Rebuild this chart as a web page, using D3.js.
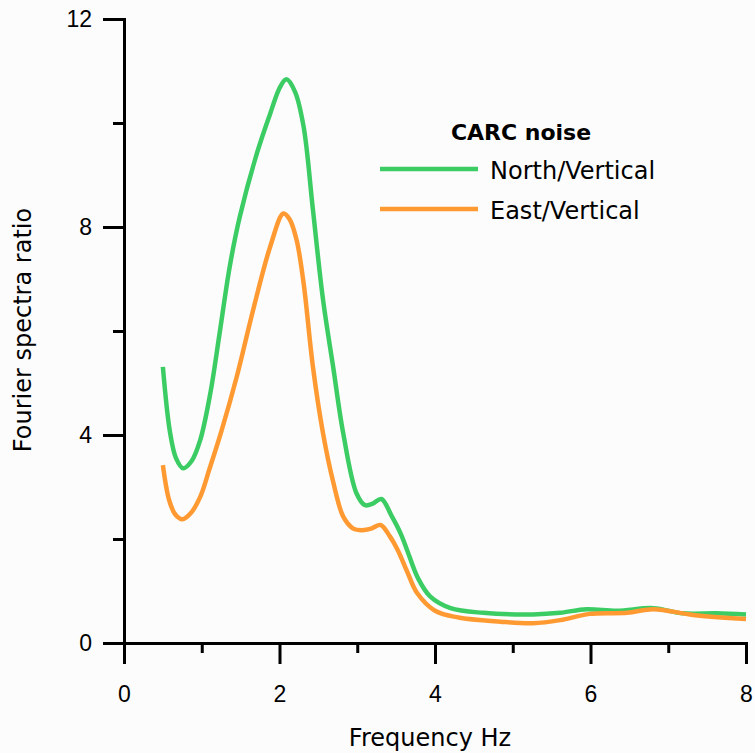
<!DOCTYPE html>
<html>
<head>
<meta charset="utf-8">
<script src="https://cdn.jsdelivr.net/npm/d3@7"></script>
<style>
    html, body { margin: 0; padding: 0; background: #fcfcfc; }
    svg { display: block; font-family: "Comic Sans MS", "DejaVu Sans", sans-serif; }
    .axis path, .axis line { stroke: #000; stroke-width: 3; }
    .axis text { font-size: 23px; fill: #000; }
</style>
</head>
<body>
<svg id="chart"></svg>
<script>
var width = 755, height = 753;

var seriesNames = ['North/Vertical', 'East/Vertical'];
var seriesColors = ['#3ccc64', '#ff9a33'];

var northFreq = [0.5, 0.59, 0.67, 0.76, 0.87, 0.98, 1.11, 1.23, 1.36, 1.49, 1.71, 1.88, 2.01, 2.09, 2.2, 2.31, 2.43, 2.56, 2.69, 2.82, 2.99, 3.1, 3.2, 3.31, 3.44, 3.56, 3.65, 3.78, 3.94, 4.2, 4.62, 5.26, 5.61, 5.95, 6.34, 6.81, 7.19, 7.62, 8.0];
var northVal  = [5.31, 4.07, 3.55, 3.36, 3.5, 3.9, 4.8, 5.96, 7.24, 8.2, 9.42, 10.18, 10.7, 10.84, 10.6, 9.93, 8.33, 6.6, 5.31, 4.03, 2.88, 2.65, 2.68, 2.77, 2.45, 2.1, 1.75, 1.25, 0.89, 0.67, 0.58, 0.55, 0.58, 0.65, 0.62, 0.67, 0.57, 0.57, 0.55];

var eastFreq = [0.5, 0.58, 0.66, 0.75, 0.86, 0.98, 1.1, 1.25, 1.45, 1.66, 1.88, 2.05, 2.13, 2.22, 2.31, 2.43, 2.56, 2.69, 2.82, 2.95, 3.06, 3.18, 3.3, 3.42, 3.52, 3.64, 3.77, 4.0, 4.3, 4.84, 5.26, 5.61, 5.99, 6.47, 6.81, 7.32, 8.0];
var eastVal  = [3.42, 2.75, 2.47, 2.38, 2.5, 2.81, 3.35, 4.06, 5.12, 6.4, 7.62, 8.26, 8.15, 7.75, 6.92, 5.31, 4.03, 3.1, 2.43, 2.2, 2.17, 2.2, 2.27, 2.05, 1.79, 1.38, 0.96, 0.62, 0.49, 0.41, 0.38, 0.44, 0.56, 0.58, 0.65, 0.54, 0.46];

var xMajorTicks = [0, 2, 4, 6, 8];
var xMinorTicks = [1, 3, 5, 7];
var yMajorTicks = [0, 4, 8, 12];
var yMinorTicks = [2, 6, 10];

var legendTitle = 'CARC noise';
var xTitle = 'Frequency Hz';
var yTitle = 'Fourier spectra ratio';

var series = [
    { name: seriesNames[0], color: seriesColors[0], values: d3.zip(northFreq, northVal) },
    { name: seriesNames[1], color: seriesColors[1], values: d3.zip(eastFreq, eastVal) },
];

var svg = d3.select('svg#chart')
    .attr('width', width)
    .attr('height', height);

var x = d3.scaleLinear().domain([0, 8]).range([124, 746]);
var y = d3.scaleLinear().domain([0, 12]).range([643, 19]);

// minor ticks first, then the major axes on top
svg.append('g')
    .classed('axis', true)
    .attr('transform', 'translate(0,' + y(0) + ')')
    .call(d3.axisBottom(x).tickValues(xMinorTicks).tickSize(10).tickSizeOuter(0).tickFormat(''));
svg.append('g')
    .classed('axis', true)
    .attr('transform', 'translate(' + x(0) + ',0)')
    .call(d3.axisLeft(y).tickValues(yMinorTicks).tickSize(11).tickSizeOuter(0).tickFormat(''));

svg.append('g')
    .classed('axis', true)
    .attr('transform', 'translate(0,' + y(0) + ')')
    .call(d3.axisBottom(x).tickValues(xMajorTicks).tickSize(21).tickSizeOuter(0).tickPadding(22));
svg.append('g')
    .classed('axis', true)
    .attr('transform', 'translate(' + x(0) + ',0)')
    .call(d3.axisLeft(y).tickValues(yMajorTicks).tickSize(21).tickSizeOuter(0).tickPadding(11));

svg.selectAll('.axis path.domain').attr('stroke-linecap', 'square');

svg.append('text')
    .attr('x', 430)
    .attr('y', 746)
    .attr('text-anchor', 'middle')
    .style('font-size', '24px')
    .text(xTitle);

svg.append('text')
    .attr('transform', 'translate(31,330) rotate(-90)')
    .attr('text-anchor', 'middle')
    .style('font-size', '24px')
    .text(yTitle);

var line = d3.line()
    .x(function (d) { return x(d[0]); })
    .y(function (d) { return y(d[1]); })
    .curve(d3.curveCatmullRom.alpha(0.5));

svg.selectAll('path.series')
    .data(series)
    .enter().append('path')
    .classed('series', true)
    .attr('fill', 'none')
    .attr('stroke', function (d) { return d.color; })
    .attr('stroke-width', 4.5)
    .attr('d', function (d) { return line(d.values); });

var legend = svg.append('g').classed('legend', true);
legend.append('text')
    .attr('x', 521)
    .attr('y', 140)
    .attr('text-anchor', 'middle')
    .style('font-size', '22px')
    .style('font-weight', 'bold')
    .text(legendTitle);

var items = legend.selectAll('g.item')
    .data(series)
    .enter().append('g')
    .classed('item', true)
    .attr('transform', function (d, i) { return 'translate(0,' + (169 + 40 * i) + ')'; });
items.append('line')
    .attr('x1', 380).attr('x2', 478)
    .attr('stroke', function (d) { return d.color; })
    .attr('stroke-width', 4.5);
items.append('text')
    .attr('x', 490)
    .attr('y', 10)
    .style('font-size', '24px')
    .text(function (d) { return d.name; });
</script>
</body>
</html>
